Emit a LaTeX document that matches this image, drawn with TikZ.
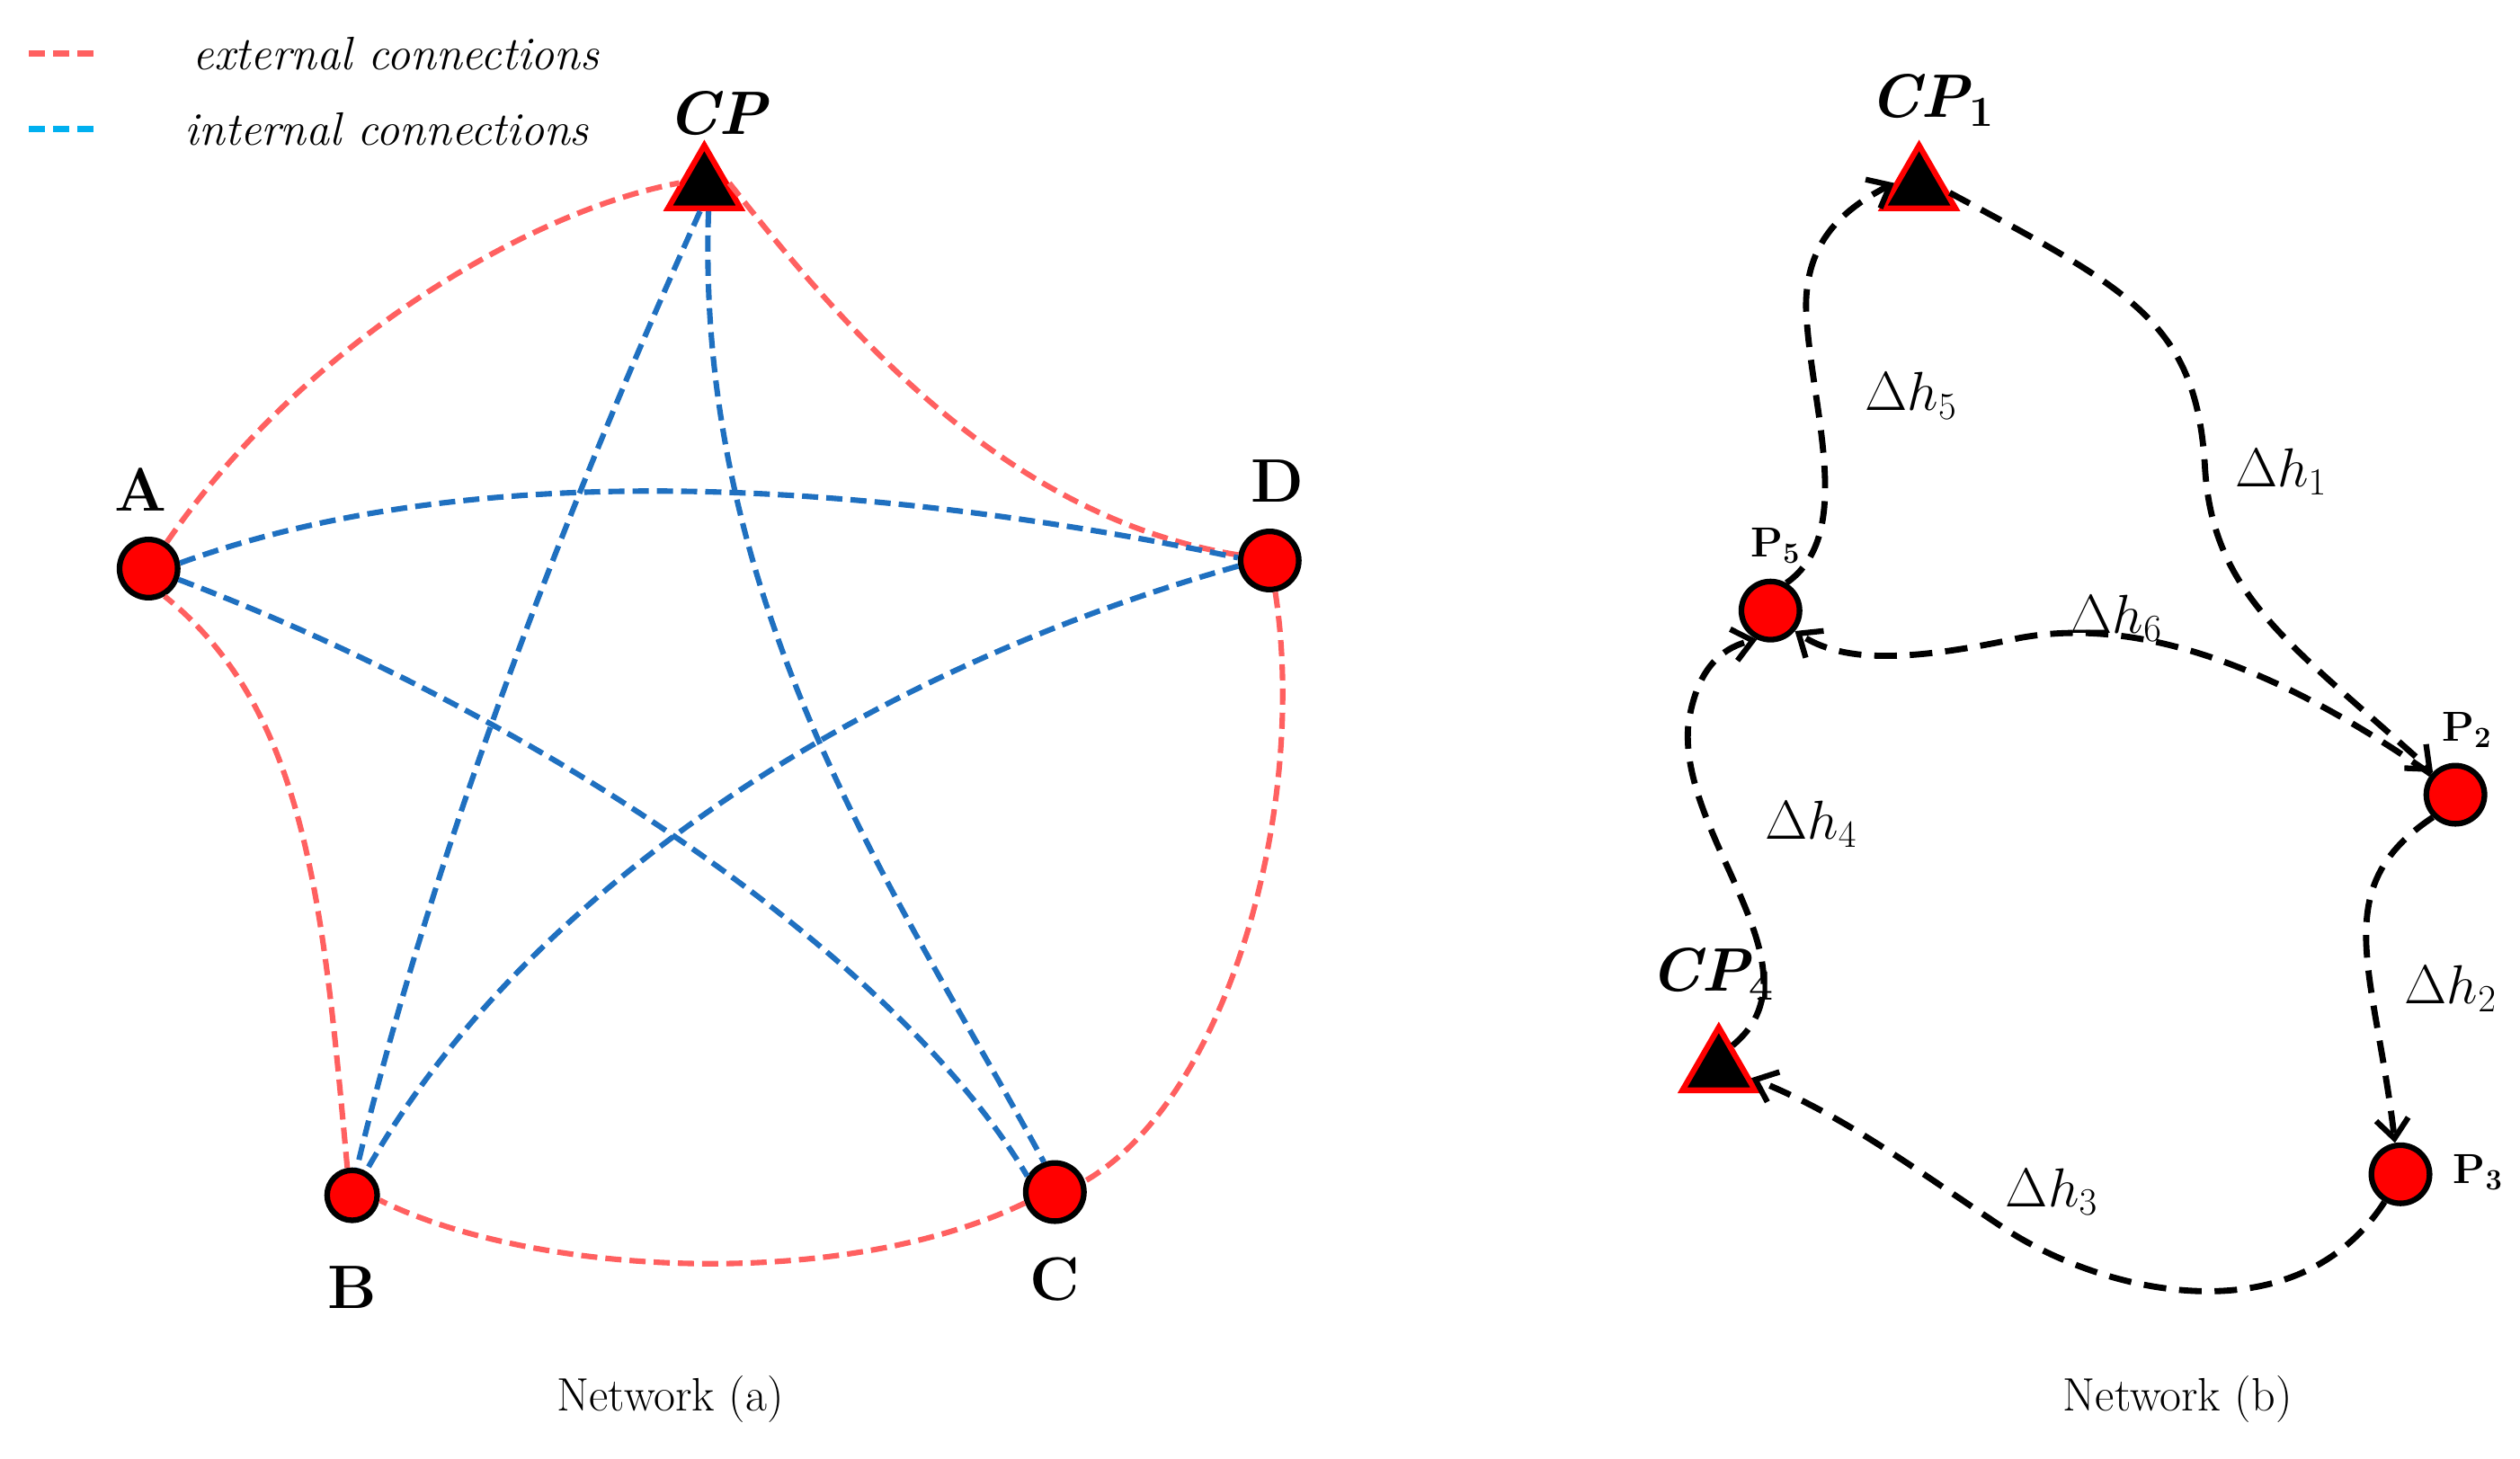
\RequirePackage{fix-cm}
\documentclass[tikz,border=0pt]{standalone}
\usetikzlibrary{shapes.geometric,arrows.meta}
\definecolor{ext}{HTML}{FF6060}
\definecolor{intc}{HTML}{1F70C0}
\definecolor{leg}{HTML}{00B0F0}
\begin{document}
\begin{tikzpicture}[x=1pt,y=-1pt,
 pt/.style={circle,draw=black,fill=red,line width=3.5pt,minimum size=36pt,inner sep=0pt},
 tri/.style={regular polygon,regular polygon sides=3,draw=red,fill=black,line width=3.5pt,minimum size=52pt,inner sep=0pt},
 ex/.style={draw=ext,line width=3.4pt,dash pattern=on 10pt off 5pt},
 inn/.style={draw=intc,line width=3.4pt,dash pattern=on 10pt off 5pt},
 ar/.style={draw=black,line width=3.8pt,dash pattern=on 14pt off 8pt,-{Straight Barb[length=12pt,width=20pt,line width=3.5pt]}},
 big/.style={font=\fontsize{38}{40}\selectfont\bfseries},
 sm/.style={font=\fontsize{26}{28}\selectfont\bfseries},
 lab/.style={font=\fontsize{34}{36}\selectfont},
 txt/.style={font=\fontsize{29}{32}\selectfont}]
\useasboundingbox (0,0) rectangle (1560,903);
% legend
\coordinate (l1a) at (18,33); \coordinate (l1b) at (58,33);
\coordinate (l2a) at (18,80); \coordinate (l2b) at (58,80);
\draw[ex,line width=4pt] (l1a) -- (l1b);
\draw[draw=leg,line width=4pt,dash pattern=on 10pt off 5pt] (l2a) -- (l2b);
\node[txt,anchor=west] (t1) at (116,33) {\itshape external connections};
\node[txt,anchor=west] (t2) at (111,80) {\itshape internal connections};
% network a
\node[pt] (A) at (92,352) {};
\node[pt] (D) at (786,347) {};
\node[pt,minimum size=31pt] (B) at (218,740) {};
\node[pt] (C) at (653,738) {};
\node[tri] (CP) at (436,116) {};
\node[big] at (87,303) {A};
\node[big] at (791,298) {D};
\node[big] at (218,797) {B};
\node[big] at (653,792) {C};
\node[big] at (444,70) {\itshape CP};
\draw[ex] (A) .. controls (190,210) and (330,130) .. (CP.170);
\draw[ex] (CP.10) .. controls (520,200) and (620,320) .. (D.170);
\draw[ex] (D.-80) .. controls (810,500) and (760,680) .. (C.20);
\draw[ex] (C.200) .. controls (520,800) and (330,790) .. (B.-10);
\draw[ex] (B.100) .. controls (200,560) and (190,440) .. (A.-60);
\draw[inn] (A.10) .. controls (300,280) and (550,300) .. (D.175);
\draw[inn] (A.-20) .. controls (350,450) and (560,600) .. (C.150);
\draw[inn] (CP.-100) .. controls (330,360) and (260,560) .. (B.80);
\draw[inn] (CP.-80) .. controls (430,380) and (560,560) .. (C.110);
\draw[inn] (D.-170) .. controls (520,420) and (320,560) .. (B.60);
\node[txt] at (415,866) {Network (a)};
% network b
\node[tri] (CP1) at (1188,116) {};
\node[tri] (CP4) at (1064,662) {};
\node[pt] (P5) at (1096,378) {};
\node[pt] (P2) at (1520,492) {};
\node[pt] (P3) at (1486,727) {};
\node[big] at (1196,62) {\itshape CP\textsubscript{\normalfont\bfseries 1}};
\node[big] at (1060,603) {\itshape CP\textsubscript{\normalfont\bfseries 4}};
\node[sm] at (1099,338) {P\textsubscript{5}};
\node[sm] at (1527,452) {P\textsubscript{2}};
\node[sm] at (1534,726) {P\textsubscript{3}};
\draw[ar] (CP1.-10) .. controls (1320,180) and (1360,200) .. (1365,290) .. controls (1370,370) and (1420,400) .. (P2.135);
\draw[ar] (P5.60) .. controls (1150,330) and (1120,250) .. (1118,190) .. controls (1118,150) and (1140,130) .. (CP1.170);
\draw[ar] (P2.140) .. controls (1420,420) and (1330,380) .. (1250,395) .. controls (1180,410) and (1140,410) .. (P5.-40);
\draw[ar] (P2.-135) .. controls (1440,550) and (1470,600) .. (P3.100);
\draw[ar] (P3.-120) .. controls (1420,830) and (1300,800) .. (1240,760) .. controls (1180,720) and (1140,690) .. (CP4.-15);
\draw[ar] (CP4.60) .. controls (1130,600) and (1040,520) .. (1045,450) .. controls (1050,410) and (1070,400) .. (P5.-115);
\node[lab] at (1183,245) {$\Delta h_5$};
\node[lab] at (1412,292) {$\Delta h_1$};
\node[lab] at (1310,383) {$\Delta h_6$};
\node[lab] at (1121,510) {$\Delta h_4$};
\node[lab] at (1517,612) {$\Delta h_2$};
\node[lab] at (1270,738) {$\Delta h_3$};
\node[txt] at (1348,866) {Network (b)};
\end{tikzpicture}
\end{document}
